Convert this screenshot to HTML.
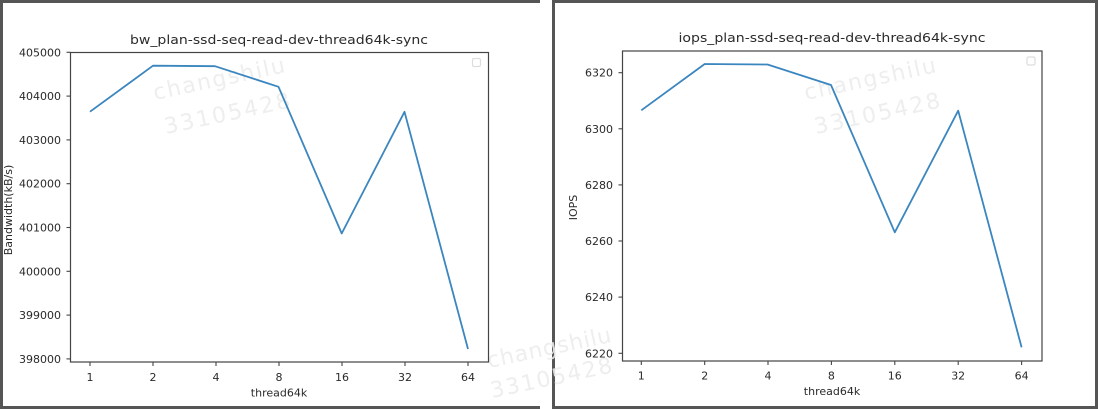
<!DOCTYPE html>
<html><head><meta charset="utf-8"><style>
html,body{margin:0;padding:0;background:#fff;}
svg{display:block;}
text{font-family:"DejaVu Sans","Liberation Sans",sans-serif;fill:#2a2a2a;}
</style></head><body>
<svg width="1098" height="409" viewBox="0 0 1098 409" xmlns="http://www.w3.org/2000/svg">
<rect width="1098" height="409" fill="#fff"/>
<!-- panel borders -->
<g fill="#555">
<rect x="0" y="0" width="540" height="3"/>
<rect x="0" y="0" width="3" height="409"/>
<rect x="0" y="406" width="540" height="3"/>
<rect x="552" y="0" width="546" height="3"/>
<rect x="552" y="0" width="3" height="409"/>
<rect x="1095" y="0" width="3" height="409"/>
<rect x="552" y="406" width="546" height="3"/>
</g>

<!-- watermarks -->
<g font-size="22" style="fill:#eeeeee" opacity="0.9">
<text x="155" y="100" transform="rotate(-12 155 100)" textLength="134" style="fill:#ececec">changshilu</text>
<text x="166" y="134" transform="rotate(-12 166 134)" textLength="128" style="fill:#ececec">33105428</text>
<text x="806" y="100" transform="rotate(-12 806 100)" textLength="134" style="fill:#ececec">changshilu</text>
<text x="816" y="134" transform="rotate(-12 816 134)" textLength="128" style="fill:#ececec">33105428</text>
<text x="489" y="368" transform="rotate(-12 489 368)" textLength="126" style="fill:#ececec">changshilu</text>
<text x="492" y="398" transform="rotate(-12 492 398)" textLength="124" style="fill:#ececec">33105428</text>
</g>

<!-- LEFT CHART -->
<text x="279" y="44" font-size="12" text-anchor="middle" textLength="298" lengthAdjust="spacingAndGlyphs">bw_plan-ssd-seq-read-dev-thread64k-sync</text>
<rect x="70.5" y="52.5" width="418" height="309.5" fill="none" stroke="#444" stroke-width="1.2"/>
<g stroke="#444" stroke-width="1.1">
<line x1="66.5" y1="52.3" x2="70.5" y2="52.3"/>
<line x1="66.5" y1="96.1" x2="70.5" y2="96.1"/>
<line x1="66.5" y1="139.9" x2="70.5" y2="139.9"/>
<line x1="66.5" y1="183.7" x2="70.5" y2="183.7"/>
<line x1="66.5" y1="227.5" x2="70.5" y2="227.5"/>
<line x1="66.5" y1="271.3" x2="70.5" y2="271.3"/>
<line x1="66.5" y1="315.1" x2="70.5" y2="315.1"/>
<line x1="66.5" y1="358.9" x2="70.5" y2="358.9"/>
<line x1="90" y1="362" x2="90" y2="366"/>
<line x1="153" y1="362" x2="153" y2="366"/>
<line x1="216" y1="362" x2="216" y2="366"/>
<line x1="279" y1="362" x2="279" y2="366"/>
<line x1="342" y1="362" x2="342" y2="366"/>
<line x1="405" y1="362" x2="405" y2="366"/>
<line x1="468" y1="362" x2="468" y2="366"/>
</g>
<g font-size="11" text-anchor="end">
<text x="61" y="56.3">405000</text>
<text x="61" y="100.1">404000</text>
<text x="61" y="143.9">403000</text>
<text x="61" y="187.7">402000</text>
<text x="61" y="231.5">401000</text>
<text x="61" y="275.3">400000</text>
<text x="61" y="319.1">399000</text>
<text x="61" y="362.9">398000</text>
</g>
<g font-size="11" text-anchor="middle">
<text x="90" y="381">1</text>
<text x="153" y="381">2</text>
<text x="216" y="381">4</text>
<text x="279" y="381">8</text>
<text x="342" y="381">16</text>
<text x="405" y="381">32</text>
<text x="468" y="381">64</text>
<text x="279" y="396.5">thread64k</text>
</g>
<text x="12" y="210" font-size="11" text-anchor="middle" transform="rotate(-90 12 210)">Bandwidth(kB/s)</text>
<rect x="472.5" y="58.5" width="8" height="8" rx="1.5" fill="none" stroke="#ddd" stroke-width="1.2"/>
<polyline points="90,111.7 153,65.7 215,66.2 278.5,86.8 341.7,233.5 404.5,111.8 468,349" fill="none" stroke="#3b86bf" stroke-width="1.8" stroke-linejoin="round"/>

<!-- RIGHT CHART -->
<text x="832" y="42" font-size="12" text-anchor="middle" textLength="307" lengthAdjust="spacingAndGlyphs">iops_plan-ssd-seq-read-dev-thread64k-sync</text>
<rect x="622.5" y="51" width="419.5" height="310" fill="none" stroke="#444" stroke-width="1.2"/>
<g stroke="#444" stroke-width="1.1">
<line x1="618.5" y1="72.7" x2="622.5" y2="72.7"/>
<line x1="618.5" y1="128.8" x2="622.5" y2="128.8"/>
<line x1="618.5" y1="184.9" x2="622.5" y2="184.9"/>
<line x1="618.5" y1="241" x2="622.5" y2="241"/>
<line x1="618.5" y1="297.1" x2="622.5" y2="297.1"/>
<line x1="618.5" y1="353.3" x2="622.5" y2="353.3"/>
<line x1="641.3" y1="361" x2="641.3" y2="365"/>
<line x1="704.7" y1="361" x2="704.7" y2="365"/>
<line x1="768" y1="361" x2="768" y2="365"/>
<line x1="831.4" y1="361" x2="831.4" y2="365"/>
<line x1="894.8" y1="361" x2="894.8" y2="365"/>
<line x1="958.2" y1="361" x2="958.2" y2="365"/>
<line x1="1021.6" y1="361" x2="1021.6" y2="365"/>
</g>
<g font-size="11" text-anchor="end">
<text x="613" y="76.7">6320</text>
<text x="613" y="132.8">6300</text>
<text x="613" y="188.9">6280</text>
<text x="613" y="245">6260</text>
<text x="613" y="301.1">6240</text>
<text x="613" y="357.3">6220</text>
</g>
<g font-size="11" text-anchor="middle">
<text x="641.3" y="379.5">1</text>
<text x="704.7" y="379.5">2</text>
<text x="768" y="379.5">4</text>
<text x="831.4" y="379.5">8</text>
<text x="894.8" y="379.5">16</text>
<text x="958.2" y="379.5">32</text>
<text x="1021.6" y="379.5">64</text>
<text x="832" y="395">thread64k</text>
</g>
<text x="577" y="207.5" font-size="11" text-anchor="middle" transform="rotate(-90 577 207.5)">IOPS</text>
<rect x="1027" y="57" width="8" height="8" rx="1.5" fill="none" stroke="#ddd" stroke-width="1.2"/>
<polyline points="641.3,110.3 704.7,64 767.5,64.5 831,85 894.8,232.3 958.2,110.7 1021.6,347.3" fill="none" stroke="#3b86bf" stroke-width="1.8" stroke-linejoin="round"/>
</svg>
</body></html>
